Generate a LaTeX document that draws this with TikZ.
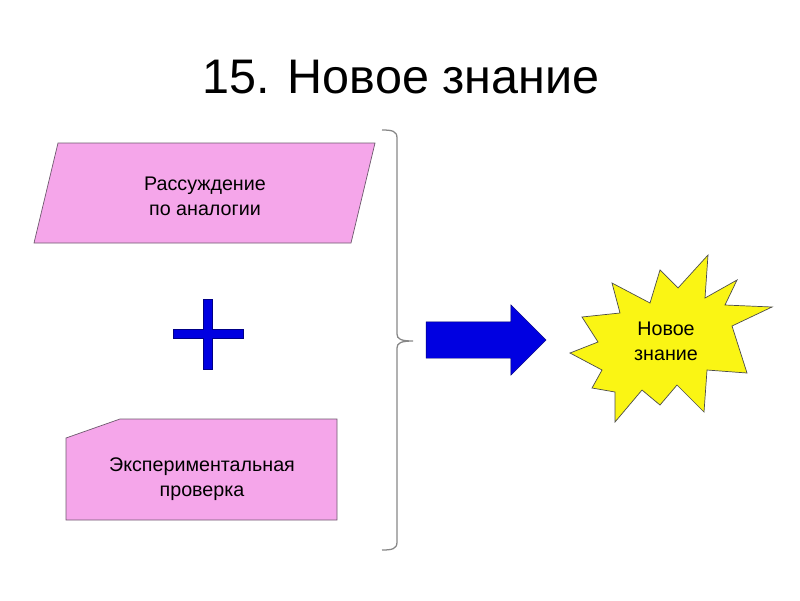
\documentclass[tikz,border=0pt]{standalone}
\usepackage{fontspec}
\setmainfont{Liberation Sans}
\usetikzlibrary{positioning,shapes.arrows}
\definecolor{ShapePink}{RGB}{245,166,234}
\definecolor{ShapeEdge}{RGB}{110,90,110}
\definecolor{PlusBlue}{RGB}{0,0,225}
\definecolor{StarYellow}{RGB}{250,245,20}
\definecolor{BraceGray}{RGB}{135,135,135}

\begin{document}
\begin{tikzpicture}[
  x=0.025cm, y=-0.025cm,
  font=\fontsize{14}{17.8}\selectfont,
  shapebox/.style={fill=ShapePink, draw=ShapeEdge, line width=0.5pt, line join=miter},
  txt/.style={align=center, inner sep=0pt},
  plusmark/.style={fill=PlusBlue, draw=PlusBlue!60!black, line width=0.3pt},
  bigarrow/.style={single arrow, fill=PlusBlue, draw=PlusBlue!50!black, line width=0.3pt,
                   single arrow head extend=0.425cm, single arrow tip angle=90,
                   minimum height=3cm, inner xsep=0pt, inner ysep=0.45cm},
  burst/.style={fill=StarYellow, draw=black!70, line width=0.5pt, line join=miter},
  brace/.style={draw=BraceGray, line width=0.9pt},
]
\useasboundingbox (0,0) rectangle (800,600);

% ============ TITLE ============
\node[txt, anchor=base, font=\fontsize{34.5}{40}\selectfont] (title) at (401,93) {15. Новое знание};

% ============ LEFT COLUMN ============
% parallelogram
\draw[shapebox] (58,143) -- (375,143) -- (351,243) -- (34,243) -- cycle;
\node[txt] (reason) at (205,196) {Рассуждение\\ по аналогии};

% plus sign
\filldraw[plusmark] (173,329.5) -- (203.5,329.5) -- (203.5,299) -- (212.5,299)
   -- (212.5,329.5) -- (243,329.5) -- (243,338.5) -- (212.5,338.5)
   -- (212.5,369) -- (203.5,369) -- (203.5,338.5) -- (173,338.5) -- cycle;

% box with cut corner
\draw[shapebox] (66,438) -- (120,419) -- (337,419) -- (337,520) -- (66,520) -- cycle;
\node[txt] (experiment) at (202,479) {Экспериментальная\\ проверка};

% ============ BRACE ============
\coordinate (btop) at (382,130);
\coordinate (btip) at (413,341);
\coordinate (bbot) at (382,550);
\draw[brace] (btop) .. controls (392,130) and (397,131) .. (397,138) -- (397,334)
   .. controls (397,339) and (401,341) .. (btip)
   .. controls (401,341) and (397,343) .. (397,348) -- (397,542)
   .. controls (397,549) and (392,550) .. (bbot);

% ============ ARROW ============
\node[bigarrow] (go) at (477,340) {};

% ============ RESULT ============
\filldraw[burst] (708,255) -- (705,298) -- (737,280) -- (725,305) -- (772,307)
   -- (732,326) -- (747,373) -- (707,370) -- (704,412) -- (677,385) -- (660,405)
   -- (642,390) -- (615,422) -- (615,392) -- (592,388) -- (602,370) -- (570,353)
   -- (598,342) -- (582,317) -- (620,313) -- (612,283) -- (650,303) -- (660,270)
   -- (678,288) -- cycle;
\node[txt] (newknow) at (666,341) {Новое\\ знание};

\end{tikzpicture}
\end{document}
